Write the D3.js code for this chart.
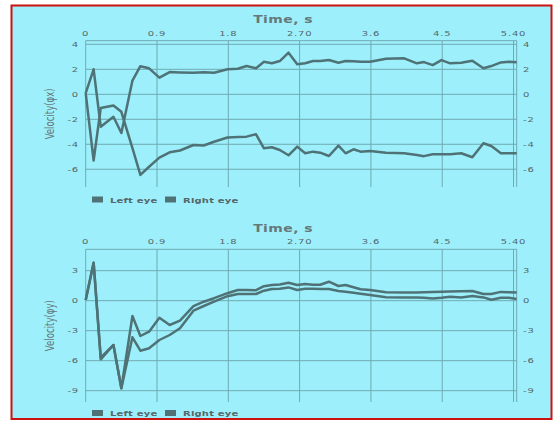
<!DOCTYPE html>
<html><head><meta charset="utf-8">
<script src="https://cdn.jsdelivr.net/npm/d3@7"></script>
<style>
html,body{margin:0;padding:0;background:#fff;}
svg{display:block;}
text{font-family:"DejaVu Sans", sans-serif;}
</style></head>
<body>
<script>
const times = [0,0.1,0.19,0.35,0.45,0.59,0.69,0.8,0.93,1.06,1.19,1.36,1.49,1.62,1.79,1.92,2.03,2.15,2.25,2.35,2.45,2.56,2.67,2.77,2.87,2.96,3.07,3.19,3.28,3.38,3.47,3.59,3.79,4.02,4.18,4.27,4.38,4.49,4.6,4.74,4.88,5.02,5.12,5.24,5.34,5.44];
const xTicks = [0,0.9,1.8,2.7,3.6,4.5,5.4];
const xTickLabels = ["0","0.9","1.8","2.70","3.6","4.5","5.40"];
const seriesNames = ["Left eye","Right eye"];

// Velocity φx
const pxLeft = [0.1,2.0,-2.6,-1.8,-3.1,1.1,2.25,2.08,1.33,1.78,1.75,1.72,1.76,1.72,2.0,2.05,2.26,2.08,2.6,2.48,2.66,3.33,2.4,2.48,2.66,2.66,2.74,2.53,2.66,2.64,2.6,2.6,2.85,2.88,2.48,2.58,2.34,2.74,2.48,2.53,2.69,2.08,2.26,2.55,2.6,2.56];
const pxRight = [0.1,-5.3,-1.1,-0.9,-1.4,-4.3,-6.45,-5.8,-5.07,-4.64,-4.5,-4.06,-4.1,-3.8,-3.46,-3.42,-3.39,-3.2,-4.32,-4.24,-4.46,-4.88,-4.19,-4.72,-4.59,-4.67,-4.94,-4.11,-4.72,-4.4,-4.59,-4.54,-4.67,-4.72,-4.86,-4.95,-4.8,-4.8,-4.8,-4.72,-5.04,-3.92,-4.14,-4.72,-4.72,-4.72];
const pxTicks = [4,2,0,-2,-4,-6];

// Velocity φy
const pyLeft = [0.07,3.8,-5.86,-4.43,-8.76,-1.53,-3.53,-3.1,-1.7,-2.43,-2.0,-0.55,-0.1,0.25,0.75,1.07,1.07,1.05,1.45,1.57,1.62,1.8,1.57,1.67,1.6,1.6,1.9,1.47,1.57,1.35,1.15,1.07,0.85,0.83,0.83,0.85,0.87,0.9,0.92,0.95,0.97,0.67,0.67,0.88,0.85,0.83];
const pyRight = [0.07,3.8,-5.7,-4.43,-8.76,-3.66,-5.0,-4.76,-3.93,-3.43,-2.76,-1.0,-0.53,-0.1,0.45,0.67,0.67,0.67,1.0,1.17,1.2,1.33,1.07,1.2,1.2,1.17,1.17,0.97,0.9,0.8,0.7,0.57,0.35,0.33,0.33,0.3,0.23,0.3,0.4,0.33,0.47,0.33,0.1,0.3,0.3,0.17];
const pyTicks = [3,0,-3,-6,-9];

const W = 554, H = 421;
const bg = "#9df0fb", grid = "#6fa9b2", lineCol = "#4f7276", textCol = "#55676a", titleCol = "#66787a";
const SQ = 0.7;

const svg = d3.select("body").append("svg").attr("width", W).attr("height", H);
svg.append("rect").attr("width", W).attr("height", H).attr("fill", "#fff");
svg.append("rect").attr("x", 11.5).attr("y", 5.5).attr("width", 540).attr("height", 413.5)
  .attr("fill", bg).attr("stroke", "#cc1111").attr("stroke-width", 2);

function sqText(parent, x, y, str, opts) {
  return parent.append("text")
    .attr("transform", `translate(${x},${y}) scale(1,${opts.sy || SQ})`)
    .attr("text-anchor", opts.anchor || "start")
    .attr("fill", opts.fill || textCol)
    .attr("font-size", opts.size || 10)
    .attr("font-weight", opts.weight || "normal")
    .attr("letter-spacing", opts.ls || 0)
    .text(str);
}

function drawChart(cfg) {
  const g = svg.append("g");
  const x = d3.scaleLinear().domain([0, 5.44]).range([85.7, 516.7]);
  const y = d3.scaleLinear().domain(cfg.yDomain).range([cfg.bottom, cfg.top]);

  g.selectAll(".hg").data(cfg.yTicks).join("line")
    .attr("x1", x(0)).attr("x2", x(5.44))
    .attr("y1", d => y(d)).attr("y2", d => y(d))
    .attr("stroke", grid).attr("stroke-width", 1);
  g.append("line").attr("x1", x(0)).attr("x2", x(5.44)).attr("y1", cfg.top).attr("y2", cfg.top)
    .attr("stroke", grid).attr("stroke-width", 1);
  g.selectAll(".vg").data(xTicks.concat([5.44])).join("line")
    .attr("x1", d => x(d)).attr("x2", d => x(d))
    .attr("y1", cfg.top).attr("y2", cfg.bottom)
    .attr("stroke", grid).attr("stroke-width", 1);

  xTicks.forEach((v, i) => sqText(g, x(v), cfg.top - 5, xTickLabels[i],
    {anchor: "middle", size: 10, ls: 0.8, weight: 500}));
  cfg.yTicks.forEach(v => {
    sqText(g, 79, y(v) + 2.5, String(v), {anchor: "end", size: 10, ls: 0.8});
    sqText(g, 523, y(v) + 2.5, String(v), {anchor: "start", size: 10, ls: 0.8});
  });

  sqText(g, 283, cfg.titleY, "Time, s", {anchor: "middle", size: 14, weight: "bold", ls: 0.4, sy: 0.78, fill: titleCol});

  const cy = (cfg.top + cfg.bottom) / 2;
  g.append("text").attr("transform", `translate(54,${cy}) rotate(-90)`)
    .attr("text-anchor", "middle").attr("fill", titleCol).attr("font-size", 13)
    .attr("font-family", "Roboto, sans-serif")
    .attr("textLength", 51).attr("lengthAdjust", "spacingAndGlyphs")
    .text(cfg.yTitle);

  const line = d3.line().x((d, i) => x(times[i])).y(d => y(d));
  cfg.series.forEach(s => {
    g.append("path").datum(s).attr("d", line).attr("fill", "none")
      .attr("stroke", lineCol).attr("stroke-width", 2.5).attr("stroke-linejoin", "round");
  });

  const lx = [92, 165];
  seriesNames.forEach((n, i) => {
    g.append("rect").attr("x", lx[i]).attr("y", cfg.legendY - 3).attr("width", 11).attr("height", 6).attr("fill", lineCol);
    sqText(g, lx[i] + 18, cfg.legendY + 3, n, {size: 10, weight: "bold", ls: 0.2});
  });
}

drawChart({top: 40.7, bottom: 187, yDomain: [-7.42, 4.29], yTicks: pxTicks, titleY: 23,
  yTitle: "Velocity(φx)", series: [pxLeft, pxRight], legendY: 199.5});
drawChart({top: 249.3, bottom: 402, yDomain: [-10.13, 5.14], yTicks: pyTicks, titleY: 232,
  yTitle: "Velocity(φy)", series: [pyLeft, pyRight], legendY: 413});
</script>
</body></html>
